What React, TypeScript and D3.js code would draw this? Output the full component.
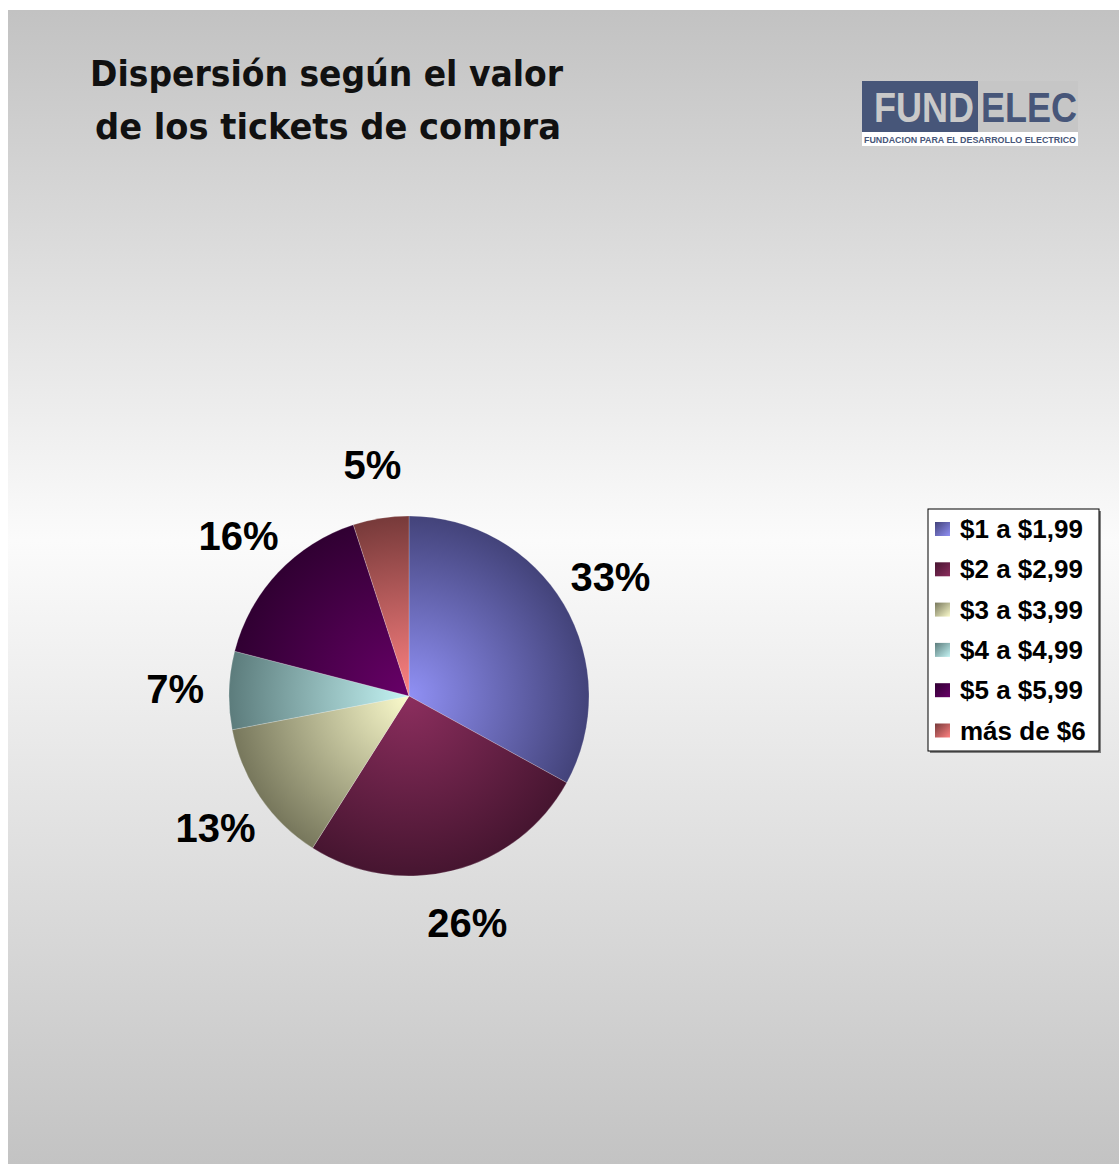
import React, { useEffect, useRef } from 'react';
import * as d3 from 'd3';

const categories = ['$1 a $1,99', '$2 a $2,99', '$3 a $3,99', '$4 a $4,99', '$5 a $5,99', 'más de $6'];
const shares = [33, 26, 13, 7, 16, 5];
const lightColors = ['#9090f4', '#8c2e5e', '#fbfbcc', '#c4f4f4', '#680068', '#ff8282'];
const darkColors = ['#43437a', '#461530', '#77775c', '#5c7c7c', '#300032', '#773a3a'];
const titleLines = ['Dispersión según el valor', 'de los tickets de compra'];

const W = 1119;
const H = 1164;

export default function App() {
  const ref = useRef<SVGSVGElement>(null);

  useEffect(() => {
    const svg = d3.select(ref.current);
    svg.selectAll('*').remove();
    const defs = svg.append('defs');

    // background: grey - near white - grey
    const bg = defs.append('linearGradient').attr('id', 'bg').attr('x1', 0).attr('y1', 0).attr('x2', 0).attr('y2', 1);
    bg.append('stop').attr('offset', '0%').attr('stop-color', '#c2c2c2');
    bg.append('stop').attr('offset', '46%').attr('stop-color', '#fbfbfb');
    bg.append('stop').attr('offset', '100%').attr('stop-color', '#c3c3c3');

    svg.append('rect').attr('x', 8).attr('y', 10).attr('width', W - 8).attr('height', H - 10).attr('fill', 'url(#bg)');

    // title
    svg
      .append('g')
      .selectAll('text')
      .data(titleLines)
      .enter()
      .append('text')
      .attr('x', (d, i) => (i === 0 ? 90 : 95))
      .attr('y', (d, i) => 86 + i * 53)
      .attr('textLength', (d, i) => (i === 0 ? 473 : 466))
      .attr('lengthAdjust', 'spacingAndGlyphs')
      .style('font-family', '"DejaVu Sans Condensed", "DejaVu Sans", sans-serif')
      .style('font-weight', 'bold')
      .style('font-size', '35px')
      .style('fill', '#111')
      .text(d => d);

    // logo
    const logo = svg.append('g');
    logo.append('rect').attr('x', 862).attr('y', 81).attr('width', 116).attr('height', 51).attr('fill', '#475679');
    logo.append('rect').attr('x', 978).attr('y', 81).attr('width', 100).attr('height', 51).attr('fill', '#c6c6c6');
    logo.append('rect').attr('x', 862).attr('y', 132).attr('width', 216).attr('height', 14).attr('fill', '#ffffff');

    // logo words squeezed horizontally with a scale so their boxes stay apart
    const logoWords = [
      { t: 'FUND', x: 874, w: 100, fill: '#c9c9c9' },
      { t: 'ELEC', x: 981, w: 96, fill: '#475679' }
    ];
    logoWords.forEach(wd => {
      const txt = logo
        .append('text')
        .style('font-family', '"Liberation Sans Narrow", "Liberation Sans", Arial, sans-serif')
        .style('font-weight', 'bold')
        .style('font-size', '43px')
        .style('fill', wd.fill)
        .text(wd.t);
      const natural = (txt.node() as SVGTextElement).getComputedTextLength() || wd.w;
      txt.attr('transform', `translate(${wd.x},122) scale(${wd.w / natural},1)`);
    });

    logo
      .append('text')
      .attr('x', 864)
      .attr('y', 143)
      .attr('textLength', 212)
      .attr('lengthAdjust', 'spacingAndGlyphs')
      .style('font-family', '"Liberation Sans", Arial, sans-serif')
      .style('font-weight', 'bold')
      .style('font-size', '9px')
      .style('fill', '#475679')
      .text('FUNDACION PARA EL DESARROLLO ELECTRICO');

    // pie
    const cx = 409;
    const cy = 696;
    const radius = 180;
    const labelRadius = 234;

    categories.forEach((c, i) => {
      const g = defs
        .append('radialGradient')
        .attr('id', 'slice' + i)
        .attr('gradientUnits', 'userSpaceOnUse')
        .attr('cx', 0)
        .attr('cy', 0)
        .attr('r', radius);
      g.append('stop').attr('offset', '0%').attr('stop-color', lightColors[i]);
      g.append('stop').attr('offset', '100%').attr('stop-color', darkColors[i]);

      const s = defs.append('linearGradient').attr('id', 'sw' + i).attr('x1', 0).attr('y1', 0).attr('x2', 1).attr('y2', 1);
      s.append('stop').attr('offset', '0%').attr('stop-color', darkColors[i]);
      s.append('stop').attr('offset', '100%').attr('stop-color', lightColors[i]);
    });

    const pie = d3.pie<number>().sort(null).value(d => d);
    const arcs = pie(shares);
    const arc = d3.arc<d3.PieArcDatum<number>>().innerRadius(0).outerRadius(radius);
    const labelArc = d3.arc<d3.PieArcDatum<number>>().innerRadius(labelRadius).outerRadius(labelRadius);

    const pg = svg.append('g').attr('transform', `translate(${cx},${cy})`);
    pg.selectAll('path')
      .data(arcs)
      .enter()
      .append('path')
      .attr('d', arc)
      .attr('fill', (d, i) => `url(#slice${i})`)
      .attr('stroke', 'rgba(255,255,255,0.35)')
      .attr('stroke-width', 0.6);

    pg.selectAll('text')
      .data(arcs)
      .enter()
      .append('text')
      .attr('transform', d => `translate(${labelArc.centroid(d)})`)
      .attr('text-anchor', 'middle')
      .attr('dy', '0.36em')
      .style('font-family', '"Liberation Sans", Arial, sans-serif')
      .style('font-weight', 'bold')
      .style('font-size', '40px')
      .style('fill', '#000')
      .text(d => d.data + '%');

    // legend
    const lx = 928;
    const ly = 509;
    const lw = 171;
    const lh = 242;
    const leg = svg.append('g');
    leg.append('rect').attr('x', lx + 2).attr('y', ly + 2).attr('width', lw).attr('height', lh).attr('fill', '#808080');
    leg.append('rect').attr('x', lx).attr('y', ly).attr('width', lw).attr('height', lh).attr('fill', '#ffffff').attr('stroke', '#000').attr('stroke-width', 1);
    const rows = leg
      .selectAll('g.row')
      .data(categories)
      .enter()
      .append('g')
      .attr('class', 'row')
      .attr('transform', (d, i) => `translate(${lx + 7},${ly + 13 + i * 40.3})`);
    rows.append('rect').attr('width', 15).attr('height', 14).attr('fill', (d, i) => `url(#sw${i})`);
    rows
      .append('text')
      .attr('x', 25)
      .attr('y', 16)
      .style('font-family', '"Liberation Sans", Arial, sans-serif')
      .style('font-weight', 'bold')
      .style('font-size', '26px')
      .style('fill', '#000')
      .text(d => d);
  }, []);

  return (
    <svg
      ref={ref}
      width={W}
      height={H}
      style={{ position: 'absolute', left: 0, top: 0, display: 'block' }}
    />
  );
}
